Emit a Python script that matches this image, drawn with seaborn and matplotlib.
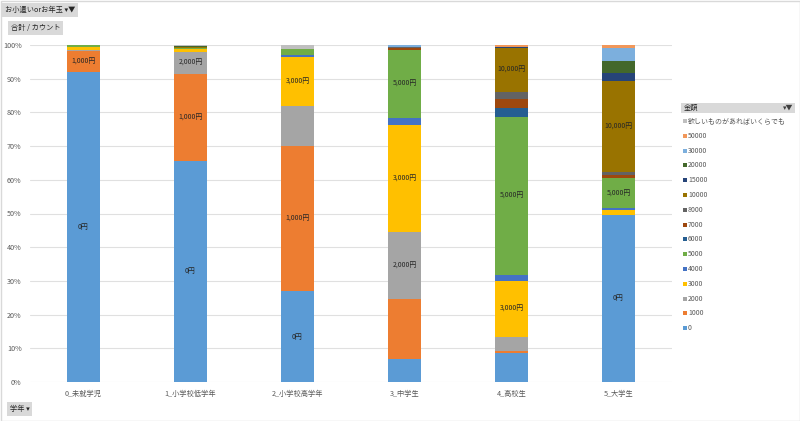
import numpy as np
import pandas as pd
import seaborn as sns
import matplotlib.pyplot as plt
from matplotlib.patches import Rectangle

# 学年 categories
grades = ['0_未就学児', '1_小学校低学年', '2_小学校高学年', '3_中学生', '4_高校生', '5_大学生']

# 金額 series (bottom -> top) and share of answers (%) per grade
amounts = ['0', '1000', '2000', '3000', '4000', '5000', '6000', '7000', '8000',
           '10000', '15000', '20000', '30000', '50000', '欲しいものがあればいくらでも']
share = {
    '0':     [92.0, 65.6, 27.0,  6.8,  8.6, 49.6],
    '1000':  [ 6.3, 25.8, 43.0, 17.8,  0.6,  0.0],
    '2000':  [ 0.3,  6.5, 11.9, 19.9,  4.2,  0.0],
    '3000':  [ 0.8,  1.0, 14.5, 31.8, 16.6,  1.5],
    '4000':  [ 0.0,  0.0,  0.6,  2.0,  1.8,  0.4],
    '5000':  [ 0.6,  0.3,  1.8, 20.2, 46.8,  8.9],
    '6000':  [ 0.0,  0.0,  0.0,  0.0,  2.7,  0.0],
    '7000':  [ 0.0,  0.0,  0.0,  0.5,  2.6,  0.9],
    '8000':  [ 0.0,  0.0,  0.0,  0.4,  2.2,  0.9],
    '10000': [ 0.0,  0.2,  0.0,  0.0, 13.0, 27.0],
    '15000': [ 0.0,  0.0,  0.0,  0.0,  0.3,  2.4],
    '20000': [ 0.0,  0.4,  0.0,  0.0,  0.0,  3.8],
    '30000': [ 0.0,  0.0,  0.0,  0.6,  0.0,  3.8],
    '50000': [ 0.0,  0.0,  0.0,  0.0,  0.6,  0.8],
    '欲しいものがあればいくらでも': [0.0, 0.2, 1.2, 0.0, 0.0, 0.0],
}
# segments that carry a data label in the original chart
labelled = {
    '0_未就学児': ['0', '1000'],
    '1_小学校低学年': ['0', '1000', '2000'],
    '2_小学校高学年': ['0', '1000', '3000'],
    '3_中学生': ['2000', '3000', '5000'],
    '4_高校生': ['3000', '5000', '10000'],
    '5_大学生': ['0', '5000', '10000'],
}

colors = {
    '0': '#5B9BD5', '1000': '#ED7D31', '2000': '#A5A5A5', '3000': '#FFC000',
    '4000': '#4472C4', '5000': '#70AD47', '6000': '#255E91', '7000': '#9E480E',
    '8000': '#636363', '10000': '#997300', '15000': '#264478', '20000': '#43682B',
    '30000': '#7CAFDD', '50000': '#F1975A', '欲しいものがあればいくらでも': '#BFBFBF',
}

sns.set_style('white')
plt.rcParams['font.family'] = ['Noto Sans CJK JP', 'DejaVu Sans']

df = pd.DataFrame(share, index=grades)
df = df.div(df.sum(axis=1), axis=0) * 100
cum = df.cumsum(axis=1)

W, H = 800, 421
fig = plt.figure(figsize=(W / 100, H / 100), dpi=100)
ax = fig.add_axes([30 / W, 1 - 382 / H, 642 / W, 337 / H])

# stacked columns: draw cumulative totals from the top layer down
for amt in amounts[::-1]:
    sns.barplot(x=grades, y=cum[amt].values, color=colors[amt], width=0.31,
                linewidth=0, saturation=1, ax=ax, zorder=3)

# data labels
for i, g in enumerate(grades):
    for amt in labelled[g]:
        top = cum.loc[g, amt]
        mid = top - df.loc[g, amt] / 2
        ax.text(i, mid, f'{int(amt):,}円', ha='center', va='center',
                fontsize=5, color='#262626', zorder=5)

ax.set_ylim(0, 100)
ax.set_xlim(-0.5, len(grades) - 0.5)
ax.set_yticks(np.arange(0, 101, 10))
ax.set_yticklabels([f'{v}%' for v in range(0, 101, 10)])
ax.yaxis.grid(True, color='#E0E0E0', linewidth=0.8, zorder=0)
ax.set_axisbelow(True)
for s in ax.spines.values():
    s.set_visible(False)
ax.tick_params(axis='both', length=0, labelsize=5.2, colors='#595959')
ax.tick_params(axis='y', pad=6)
ax.tick_params(axis='x', pad=6)
ax.set_xlabel('')
ax.set_ylabel('')

# pivot field buttons
btn = dict(boxstyle='square,pad=0.35', facecolor='#D9D9D9', edgecolor='none')
fig.text(5 / W, 1 - 10 / H, 'お小遣いorお年玉 ▾▼', fontsize=5.2, color='#262626',
         va='center', ha='left', bbox=btn)
fig.text(11 / W, 1 - 28 / H, '合計 / カウント', fontsize=5.2, color='#262626',
         va='center', ha='left', bbox=btn)
fig.text(10 / W, 1 - 409 / H, '学年 ▾', fontsize=5.2, color='#262626',
         va='center', ha='left', bbox=btn)

# legend (field 金額, shown top -> bottom)
fig.patches.append(Rectangle((681 / W, 1 - 113 / H), 114 / W, 10 / H,
                             transform=fig.transFigure, facecolor='#D9D9D9',
                             edgecolor='none'))
fig.text(684 / W, 1 - 108 / H, '金額', fontsize=5.2, color='#262626', va='center')
fig.text(793 / W, 1 - 108 / H, '▾▼', fontsize=5, color='#404040', va='center', ha='right')
for k, amt in enumerate(amounts[::-1]):
    yc = 121 + k * 14.8
    fig.patches.append(Rectangle((683 / W, 1 - (yc + 2) / H), 4 / W, 4 / H,
                                 transform=fig.transFigure, facecolor=colors[amt],
                                 edgecolor='none'))
    fig.text(688 / W, 1 - yc / H, amt, fontsize=5, color='#595959', va='center')

# outer frame
fig.patches.append(Rectangle((0.5 / W, 0.5 / H), (W - 1) / W, (H - 1) / H,
                             transform=fig.transFigure, fill=False,
                             edgecolor='#D9D9D9', linewidth=1))

fig.savefig('out.png', dpi=100)
